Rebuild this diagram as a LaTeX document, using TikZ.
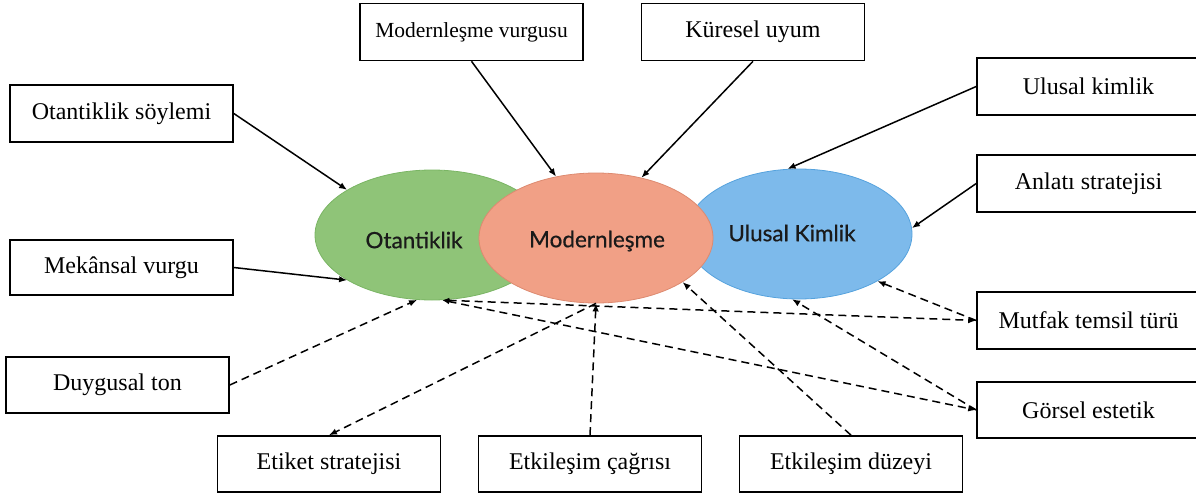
\documentclass[tikz,border=0pt]{standalone}
\usepackage{fontspec}
\setmainfont{Liberation Serif}
\newfontfamily\ellfont[FakeBold=0.6]{Lato}
\usetikzlibrary{arrows.meta,shapes.geometric}
\definecolor{gfill}{HTML}{8FC478}
\definecolor{gline}{HTML}{7AB564}
\definecolor{ofill}{HTML}{F1A086}
\definecolor{oline}{HTML}{DD8A70}
\definecolor{bfill}{HTML}{7DBAEB}
\definecolor{bline}{HTML}{55A2DD}
\definecolor{etxt}{HTML}{1A1A1A}
\begin{document}
\begin{tikzpicture}[x=1pt,y=-1pt,
  box/.style={draw, line width=1.6pt, minimum width=223pt, minimum height=57pt, inner sep=0pt, fill=white, font=\fontsize{24}{28}\selectfont},
  ell/.style={ellipse, line width=0.8pt, inner sep=0pt, minimum width=234pt, minimum height=130pt},
  etext/.style={text=etxt, font=\ellfont\fontsize{22.5}{26}\selectfont, inner sep=0pt},
  tip/.style={-{Latex[length=8pt,width=6.5pt]}},
  sol/.style={line width=1.5pt, tip},
  dsh/.style={line width=1.5pt, tip, dash pattern=on 8pt off 5pt},
  dshboth/.style={line width=1.5pt, {Latex[length=7pt,width=5.5pt]}-{Latex[length=8pt,width=6.5pt]}, dash pattern=on 8pt off 5pt}]
\useasboundingbox (0,0) rectangle (1196,495);

% ellipses
\node[ell, fill=gfill, draw=gline] (g) at (432,235) {};
\node[ell, fill=bfill, draw=bline, minimum width=226pt] (b) at (799,234) {};
\node[ell, fill=ofill, draw=oline] (o) at (596,238) {};
\node[etext] (gt) at (414,240) {Otantiklik};
\node[etext] (ot) at (597,241) {Modernleşme};
\node[etext] (bt) at (792,233) {Ulusal Kimlik};

% boxes
\node[box] (os) at (121.5,113.5) {Otantiklik söylemi};
\node[box, font=\fontsize{21.5}{26}\selectfont] (mv) at (471.5,32) {Modernleşme vurgusu};
\node[box] (ku) at (753,32) {Küresel uyum};
\node[box] (uk) at (1088.5,86.5) {Ulusal kimlik};
\node[box] (ak) at (1088.5,183.5) {Anlatı stratejisi};
\node[box, minimum height=55pt] (mk) at (121.5,267.5) {Mekânsal vurgu};
\node[box] (mt) at (1088.5,320.5) {Mutfak temsil türü};
\node[box, minimum height=56pt] (dt) at (117.5,385) {Duygusal ton};
\node[box, minimum height=56pt] (ge) at (1088.5,410) {Görsel estetik};
\node[box, minimum height=56pt] (es) at (329,464) {Etiket stratejisi};
\node[box, minimum height=56pt] (ec) at (590,464) {Etkileşim çağrısı};
\node[box, minimum height=56pt] (ed) at (851,464) {Etkileşim düzeyi};

% solid connectors
\draw[sol] (os.east) -- (g.152);
\draw[sol] (mk.east) -- (g.208);
\draw[sol] (mv.south) -- (o.123);
\draw[sol] (ku.south) -- (o.53);
\draw[sol] (uk.west) -- (b.100);
\draw[sol] (ak.west) -- (b.3);

% dashed connectors
\draw[dsh] (dt.east) -- (g.257);
\draw[dsh] (ec.north) -- (o.270);
\draw[dsh] (o.270) -- (es.north);
\draw[dsh] (ed.north) -- (o.333);
\draw[dshboth] (g.279) -- (mt.west);
\draw[dsh] (mt.west) -- (b.329);
\draw[dshboth] (g.279) -- (ge.west);
\draw[dsh] (ge.west) -- (b.264);
\end{tikzpicture}
\end{document}
